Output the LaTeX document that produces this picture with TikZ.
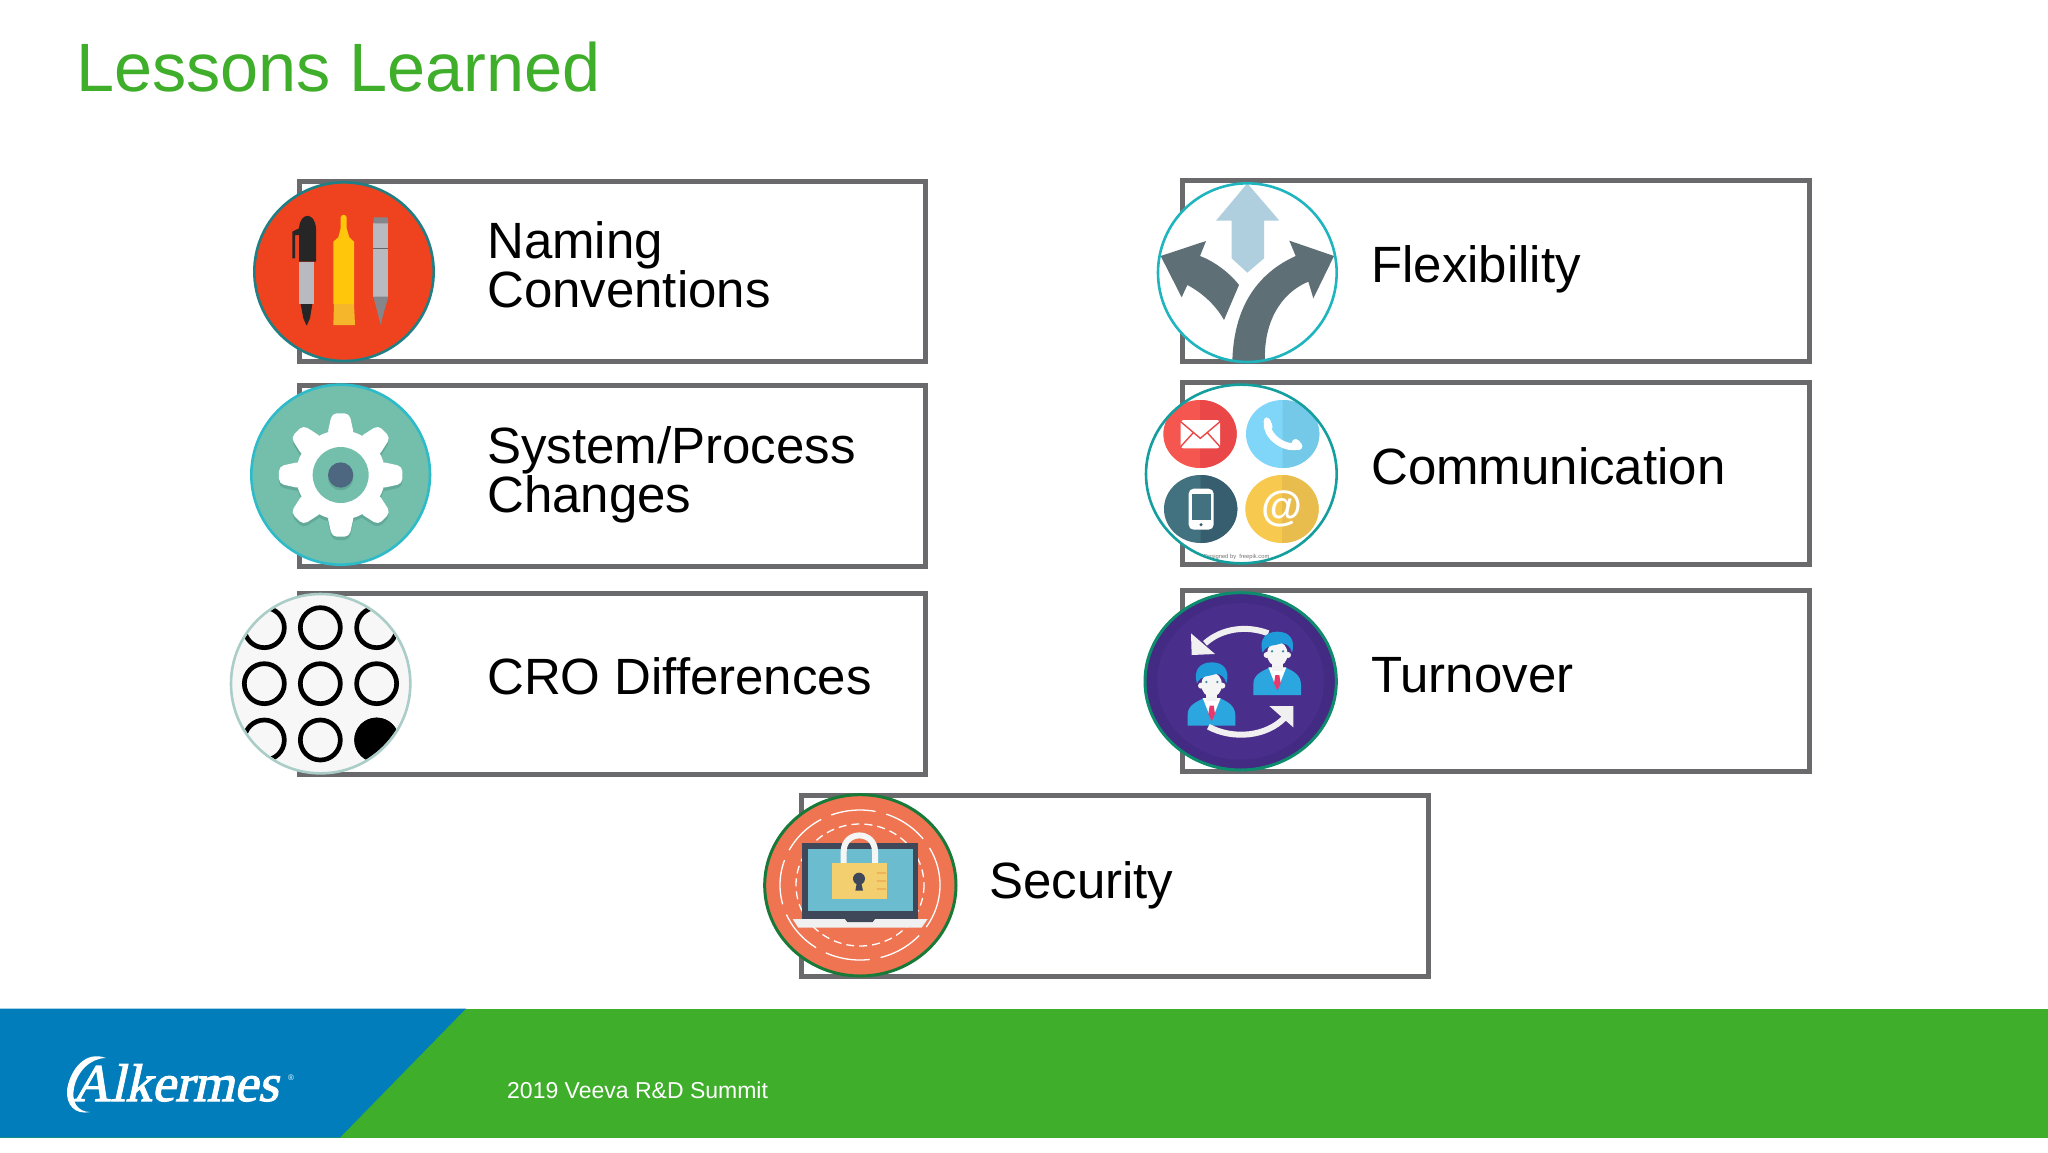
\documentclass[tikz,border=0pt]{standalone}
\usepackage{fontspec}
\setmainfont{Liberation Sans}
\newfontfamily\logofont[FakeSlant=0.22,FakeBold=2]{Liberation Serif}
\definecolor{titlegreen}{HTML}{3FAE2A}
\definecolor{barblue}{HTML}{007DBA}
\definecolor{boxgray}{HTML}{6A696B}
\definecolor{slate}{HTML}{5E6F76}
\definecolor{teal}{HTML}{74BFAB}
\definecolor{tealdk}{HTML}{62A999}
\definecolor{penred}{HTML}{EF431F}
\definecolor{penrim}{HTML}{1F7F85}
\definecolor{gearrim}{HTML}{2DBBC9}
\definecolor{geardot}{HTML}{4E6780}
\definecolor{gridrim}{HTML}{AACDC8}
\definecolor{paleblue}{HTML}{AFCFDE}
\definecolor{dirrim}{HTML}{1FB5BE}
\definecolor{commrim}{HTML}{149E9E}
\definecolor{redA}{HTML}{F5564F}
\definecolor{redB}{HTML}{EA4848}
\definecolor{blueA}{HTML}{7FD6F8}
\definecolor{blueB}{HTML}{74C8E8}
\definecolor{darkA}{HTML}{42717F}
\definecolor{darkB}{HTML}{365E6E}
\definecolor{yelA}{HTML}{F7C94F}
\definecolor{yelB}{HTML}{E9BC4E}
\definecolor{purpA}{HTML}{432A83}
\definecolor{purpB}{HTML}{4A2E8C}
\definecolor{turnrim}{HTML}{0E8A6C}
\definecolor{hair}{HTML}{1F9BD9}
\definecolor{suit}{HTML}{2BA6DF}
\definecolor{tiepink}{HTML}{E8396E}
\definecolor{eyeteal}{HTML}{3C8FA8}
\definecolor{lockorange}{HTML}{EE7452}
\definecolor{lockrim}{HTML}{187A38}
\definecolor{lapdark}{HTML}{3F4858}
\definecolor{lapscreen}{HTML}{6CBCCF}
\definecolor{lockyel}{HTML}{F3CF6F}
\definecolor{lockdash}{HTML}{EDB45A}
\definecolor{markyel}{HTML}{FFC60B}
\definecolor{markbase}{HTML}{F6B62B}
\definecolor{pensilver}{HTML}{B9BAC0}
\definecolor{pengrey}{HTML}{85868C}
\tikzset{
  panel/.style={draw=boxgray,line width=5pt,fill=white},
  label/.style={anchor=base west,inner sep=0pt,align=left,text=black,font=\fontsize{51}{49}\selectfont},
  rim/.style={line width=2.6pt,fill=none},
  ring/.style={line width=4.7pt,draw=black},
}
\newcommand{\panelbox}[4]{\draw[panel] (#1,#2) rectangle (#3,#4);}
\newcommand{\staff}[2]{%
 \begin{scope}[shift={(#1,#2)}]
  \fill[suit] (370,345) -- (370,312) .. controls (370,282) and (400,272) .. (420,262) -- (464,262) .. controls (490,272) and (513,285) .. (513,315) -- (513,345) -- cycle;
  \fill[white] (415,262) -- (469,262) -- (442,330) -- cycle;
  \fill[black!5] (425,240) rectangle (459,272);
  \fill[tiepink] (436,285) -- (448,285) -- (452,310) -- (442,332) -- (432,310) -- cycle;
  \fill[black!4] (410,225) circle (9);
  \fill[black!4] (474,225) circle (9);
  \fill[black!4] (442,222) ellipse (31 and 37);
  \fill[hair] (398,218) .. controls (385,175) and (410,155) .. (442,155) .. controls (475,155) and (498,175) .. (486,218) .. controls (482,200) and (470,190) .. (455,190) .. controls (435,198) and (410,192) .. (398,218) -- cycle;
  \fill[eyeteal] (426,214) circle (4);
  \fill[eyeteal] (459,214) circle (4);
 \end{scope}}
\begin{document}
\begin{tikzpicture}[x=1pt,y=-1pt]
\useasboundingbox (0,0) rectangle (2048,1152);
\fill[white] (0,0) rectangle (2048,1152);
\node[anchor=base west,inner sep=0pt,text=titlegreen,font=\fontsize{68.4}{68}\selectfont] (title) at (76,91) {Lessons Learned};

\panelbox{299.5}{181.5}{925.5}{361.5}
\panelbox{299.5}{385.5}{925.5}{566.5}
\panelbox{299.5}{593.5}{925.5}{774.5}
\panelbox{1182.5}{180.5}{1809}{361.5}
\panelbox{1182.5}{382.5}{1809}{564.5}
\panelbox{1182.5}{590.5}{1809}{771.5}
\panelbox{801.5}{795.5}{1428}{976.5}

\node[label] (naming) at (487,307) {Naming\\Conventions};
\node[label] (system) at (487,512) {System/Process\\Changes};
\node[label] (cro) at (487,694) {CRO Differences};
\node[label] (flex) at (1371,282) {Flexibility};
\node[label] (comm) at (1371,484) {Communication};
\node[label] (turn) at (1371,692) {Turnover};
\node[label] (sec) at (989,898) {Security};

% pens
\begin{scope}[shift={(220,160)},scale=1/3]
 \fill[penred] (372,335) ellipse (269 and 268);
 \draw[rim,draw=penrim] (372,335) ellipse (269 and 268);
 \fill[pensilver] (237,305) rectangle (282,432);
 \fill[black!85] (237,305) -- (237,205) .. controls (240,155) and (285,155) .. (288,205) -- (288,305) -- cycle;
 \fill[black!85] (217,215) -- (237,205) -- (237,225) -- (225,225) -- (225,295) -- (217,295) -- cycle;
 \fill[black!85] (242,432) -- (277,432) -- (270,475) -- (260,497) -- (250,475) -- cycle;
 \fill[markyel] (362,172) .. controls (365,162) and (377,162) .. (380,172) -- (380,205) -- (388,232) -- (402,245) -- (402,432) -- (340,432) -- (340,245) -- (355,232) -- (362,205) -- cycle;
 \fill[markbase] (342,432) -- (402,432) -- (405,495) -- (340,495) -- cycle;
 \fill[pensilver] (460,190) rectangle (505,410);
 \fill[pengrey] (460,190) -- (462,172) -- (503,172) -- (505,190) -- cycle;
 \draw[black!60,line width=1pt] (460,265) -- (505,265);
 \fill[pengrey] (460,410) -- (505,410) -- (488,470) -- (482,495) -- (476,470) -- cycle;
\end{scope}

% gear
\begin{scope}[shift={(220,160)},scale=1/3]
 \fill[teal] (362,944) ellipse (268 and 270);
 \draw[rim,draw=gearrim] (362,944) ellipse (268 and 270);
 \begin{scope}[shift={(362,955)}]
  \fill[tealdk] (0,0) circle (134);
  \foreach \a in {0,45,...,315}
   \fill[tealdk,rounded corners=5pt] (\a-19:125) -- (\a-8:187) -- (\a+8:187) -- (\a+19:125) -- cycle;
 \end{scope}
 \begin{scope}[shift={(362,945)}]
  \fill[white] (0,0) circle (134);
  \foreach \a in {0,45,...,315}
   \fill[white,rounded corners=5pt] (\a-19:125) -- (\a-8:187) -- (\a+8:187) -- (\a+19:125) -- cycle;
  \fill[teal] (0,0) circle (84);
  \fill[tealdk] (0,8) circle (38);
  \fill[geardot] (0,0) circle (38);
 \end{scope}
\end{scope}

% grid
\begin{scope}[shift={(220,580)},scale=1/3]
 \fill[black!3] (302,311) circle (269);
 \begin{scope}
  \clip (302,311) circle (265);
  \foreach \x in {133,301,470}
   \foreach \y in {143,311,480}
    \draw[ring] (\x,\y) circle (60);
  \fill[black] (470,480) circle (67);
 \end{scope}
 \draw[rim,draw=gridrim] (302,311) circle (269);
\end{scope}

% directions
\begin{scope}[shift={(1130,170)},scale=1/3]
 \fill[white] (352,308) circle (268);
 \begin{scope}
  \clip (352,308) circle (268);
  \fill[paleblue] (352,40) -- (448,152) -- (402,152) -- (402,265) -- (352,308) -- (305,265) -- (305,152) -- (258,152) -- cycle;
  \fill[slate] (307,575) .. controls (310,440) and (360,320) .. (497,258) -- (478,212) -- (612,258) -- (550,385) -- (535,335) .. controls (450,370) and (400,460) .. (405,575) -- cycle;
  \fill[slate] (92,258) -- (228,213) -- (210,258) .. controls (255,275) and (300,310) .. (327,345) -- (282,450) .. controls (260,410) and (220,370) .. (172,345) -- (155,382) -- cycle;
 \end{scope}
 \draw[rim,draw=dirrim] (352,308) circle (268);
\end{scope}

% communication
\begin{scope}[shift={(1130,170)},scale=1/3]
 \fill[white] (334,912) ellipse (286 and 268);
 \fill[redA] (210,792) ellipse (110 and 102);
 \begin{scope}\clip (210,680) rectangle (330,900); \fill[redB] (210,792) ellipse (110 and 102);\end{scope}
 \fill[blueA] (458,792) ellipse (110 and 102);
 \begin{scope}\clip (458,680) rectangle (580,900); \fill[blueB] (458,792) ellipse (110 and 102);\end{scope}
 \fill[darkA] (212,1017) ellipse (110 and 102);
 \begin{scope}\clip (212,910) rectangle (330,1125); \fill[darkB] (212,1017) ellipse (110 and 102);\end{scope}
 \fill[yelA] (456,1017) ellipse (110 and 102);
 \begin{scope}\clip (456,910) rectangle (570,1125); \fill[yelB] (456,1017) ellipse (110 and 102);\end{scope}
 \fill[white,rounded corners=3pt] (152,750) rectangle (270,835);
 \draw[redB,line width=1.4pt] (152,755) -- (211,805) -- (270,755) (152,830) -- (190,788) (270,830) -- (232,788);
 \fill[white,rounded corners=5pt] (176,956) rectangle (251,1079);
 \fill[darkA] (185,971) rectangle (242,1050);
 \fill[darkB] (213,1064) circle (5);
 \draw[white,line width=7pt,line cap=round] (412,755) .. controls (405,795) and (460,840) .. (505,828);
 \fill[white,rounded corners=4pt] (397,755) -- (410,736) -- (432,772) -- (418,785) -- cycle;
 \fill[white,rounded corners=4pt] (480,818) -- (498,802) -- (522,830) -- (505,845) -- cycle;
 \node[inner sep=0pt,text=white,font=\fontsize{42}{42}\bfseries\selectfont] (atsign) at (456,1017) {@};
 \node[inner sep=0pt,text=black!55,font=\fontsize{5.8}{6}\selectfont] (freepik) at (320,1160) {Designed by \ freepik.com};
 \draw[rim,draw=commrim] (334,912) ellipse (286 and 268);
\end{scope}

% turnover
\begin{scope}[shift={(1130,580)},scale=1/3]
 \fill[purpA] (332,304) ellipse (287 and 266);
 \fill[purpB] (332,304) ellipse (250 and 235);
 \draw[black!6,line width=6pt] (415,160) .. controls (350,135) and (275,145) .. (225,190);
 \fill[black!6] (183,160) -- (255,222) -- (185,225) -- cycle;
 \staff{0}{0}
 \staff{-197}{92}
 \draw[black!6,line width=6pt] (235,440) .. controls (310,480) and (410,470) .. (465,412);
 \fill[black!6] (490,378) -- (418,378) -- (490,442) -- cycle;
 \draw[rim,line width=3pt,draw=turnrim] (332,304) ellipse (287 and 266);
\end{scope}

% security
\begin{scope}[shift={(750,780)},scale=1/3]
 \fill[lockorange] (331,316) ellipse (287 and 272);
 \draw[white,line width=1.3pt,dash pattern=on 45pt off 11pt] (330,315) ellipse (240 and 225);
 \draw[white,line width=1.3pt,dash pattern=on 8pt off 5pt] (330,315) ellipse (192 and 183);
 \fill[lapdark] (155,190) rectangle (505,417);
 \fill[lapscreen] (175,208) rectangle (488,393);
 \fill[black!6] (128,417) -- (533,417) -- (515,443) -- (145,443) -- cycle;
 \fill[lapdark] (285,417) -- (375,417) -- (368,426) -- (292,426) -- cycle;
 \draw[black!4,line width=6pt] (281,255) -- (281,215) .. controls (281,150) and (375,150) .. (375,215) -- (375,255);
 \fill[lockyel] (247,250) rectangle (410,358);
 \fill[lapdark] (327,296) circle (18);
 \fill[lapdark] (322,300) -- (332,300) -- (339,332) -- (316,332) -- cycle;
 \foreach \y in {278,302,328}
  \draw[lockdash,line width=2pt] (380,\y) -- (408,\y);
 \draw[rim,draw=lockrim,line width=3pt] (331,316) ellipse (287 and 272);
\end{scope}

% footer
\fill[titlegreen] (0,1008.5) rectangle (2048,1137.5);
\fill[barblue] (0,1008.5) -- (466,1008.5) -- (340,1137.5) -- (0,1137.5) -- cycle;
\node[anchor=base west,inner sep=0pt,text=white,font=\fontsize{23}{23}\selectfont] (summit) at (507,1098) {2019 Veeva R\&D Summit};
\node[anchor=base west,inner sep=0pt,text=white,font=\logofont\fontsize{53}{53}\selectfont] (logo) at (72,1101) {Alkermes};
\node[anchor=base west,inner sep=0pt,text=white,font=\fontsize{8}{8}\selectfont] (reg) at (288,1080) {®};
\fill[white] (106,1058) .. controls (85,1050) and (70,1070) .. (67,1090) .. controls (66,1105) and (75,1115) .. (90,1112) .. controls (78,1112) and (71,1102) .. (74,1088) .. controls (77,1072) and (90,1058) .. (106,1058) -- cycle;
\end{tikzpicture}
\end{document}
